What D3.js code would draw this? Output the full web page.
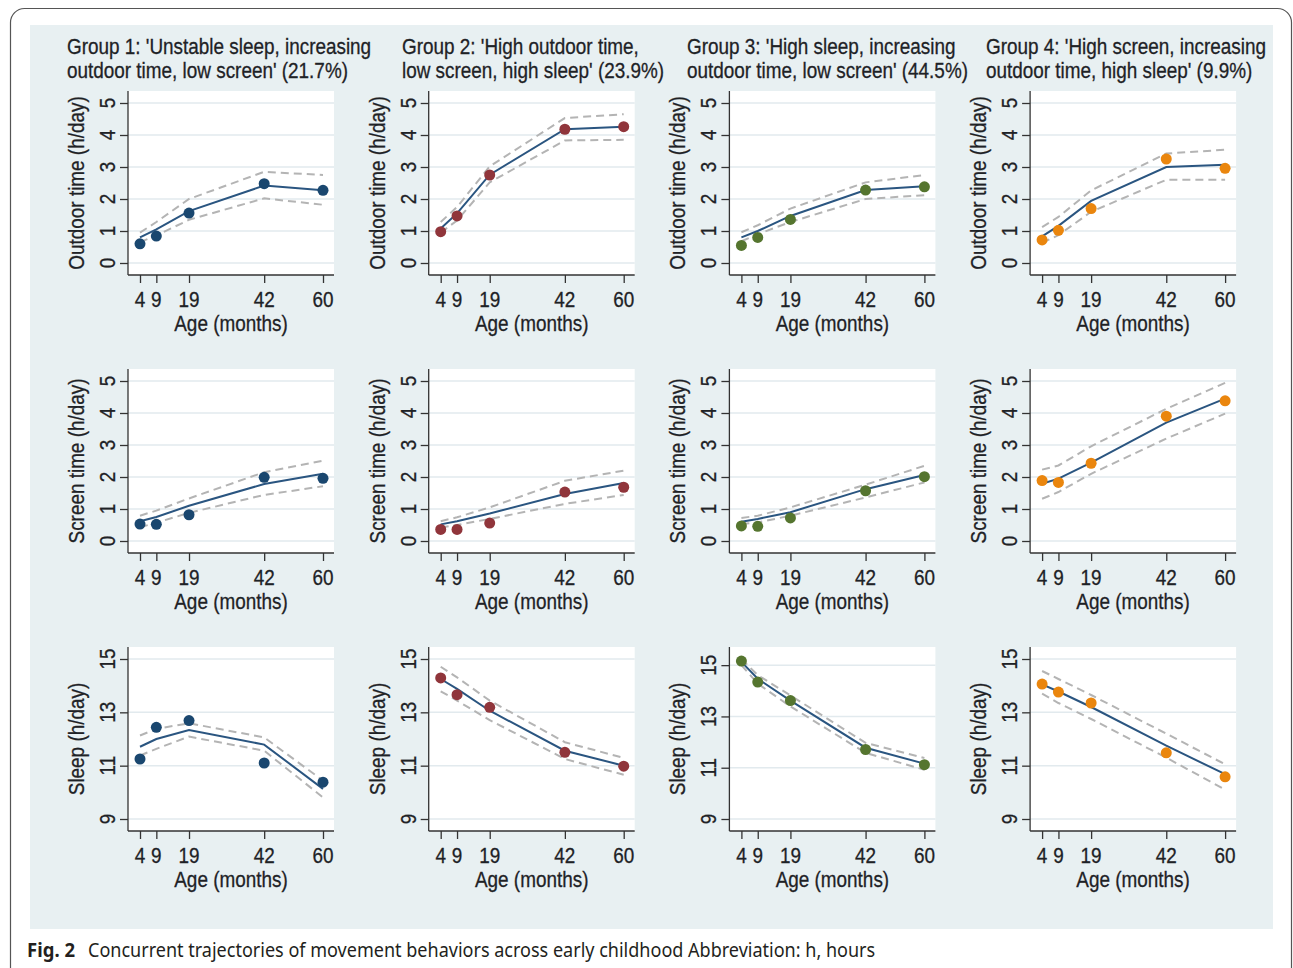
<!DOCTYPE html>
<html><head><meta charset="utf-8">
<script src="https://cdn.jsdelivr.net/npm/d3@7"></script>
<style>body{margin:0;background:#fff} svg{display:block}</style>
</head><body><svg id="c" width="1293" height="968"></svg>
<script>
// ---------------- DATA ----------------
const ages = [4, 9, 19, 42, 60];
const xTicks = [4, 9, 19, 42, 60];
const hourTicks = [0, 1, 2, 3, 4, 5];
const sleepTicks = [9, 11, 13, 15];
const groupTitles = [
  ["Group 1: 'Unstable sleep, increasing", "outdoor time, low screen' (21.7%)"],
  ["Group 2: 'High outdoor time,", "low screen, high sleep' (23.9%)"],
  ["Group 3: 'High sleep, increasing", "outdoor time, low screen' (44.5%)"],
  ["Group 4: 'High screen, increasing", "outdoor time, high sleep' (9.9%)"]
];
const outcomeLabels = ["Outdoor time (h/day)", "Screen time (h/day)", "Sleep (h/day)"];
const xTitle = "Age (months)";
const groupColors = ["#1a476f", "#90353b", "#55752f", "#ea860e"];

// observed means (dots), fitted trajectory, upper and lower CI, per group
const outdoorObs   = [[0.60,0.84,1.56,2.48,2.27],[0.98,1.47,2.75,4.18,4.26],[0.55,0.80,1.36,2.28,2.38],[0.72,1.02,1.70,3.25,2.96]];
const outdoorFit   = [[0.80,1.05,1.62,2.42,2.27],[1.08,1.55,2.76,4.18,4.26],[0.80,1.00,1.47,2.28,2.40],[0.83,1.16,1.94,3.00,3.07]];
const outdoorUpper = [[0.95,1.28,2.00,2.85,2.75],[1.28,1.75,3.02,4.53,4.65],[0.96,1.18,1.70,2.52,2.75],[1.12,1.44,2.27,3.42,3.54]];
const outdoorLower = [[0.65,0.86,1.35,2.02,1.82],[0.95,1.33,2.52,3.83,3.85],[0.68,0.90,1.28,2.00,2.12],[0.63,0.87,1.60,2.60,2.60]];

const screenObs   = [[0.53,0.52,0.82,1.99,1.96],[0.36,0.36,0.56,1.53,1.68],[0.47,0.46,0.72,1.57,2.01],[1.89,1.83,2.43,3.90,4.38]];
const screenFit   = [[0.62,0.75,1.10,1.78,2.10],[0.52,0.62,0.86,1.47,1.81],[0.60,0.69,0.90,1.62,2.06],[1.79,1.95,2.45,3.70,4.45]];
const screenUpper = [[0.79,0.95,1.33,2.15,2.51],[0.62,0.74,1.05,1.88,2.20],[0.72,0.79,1.05,1.76,2.35],[2.23,2.36,2.96,4.13,4.94]];
const screenLower = [[0.43,0.57,0.88,1.44,1.71],[0.42,0.50,0.69,1.16,1.44],[0.53,0.58,0.79,1.36,1.83],[1.32,1.53,2.10,3.20,3.98]];

const sleepObs   = [[11.25,12.44,12.69,11.10,10.38],[14.29,13.66,13.19,11.50,10.98],[15.16,14.34,13.62,11.71,11.12],[14.06,13.76,13.35,11.48,10.58]];
const sleepFit   = [[11.71,12.00,12.34,11.79,10.13],[14.25,13.88,13.06,11.56,11.00],[15.13,14.47,13.62,11.78,11.16],[14.05,13.78,13.20,11.75,10.68]];
const sleepUpper = [[12.13,12.38,12.59,12.06,10.44],[14.71,14.31,13.44,11.88,11.29],[15.24,14.61,13.82,11.97,11.38],[14.55,14.25,13.65,12.20,11.05]];
const sleepLower = [[11.38,11.63,12.09,11.56,9.81],[13.79,13.44,12.71,11.25,10.66],[15.00,14.28,13.39,11.58,10.92],[13.70,13.35,12.75,11.30,10.10]];

const captionBold = "Fig. 2";
const captionText = "Concurrent trajectories of movement behaviors across early childhood Abbreviation: h, hours";

// ---------------- LAYOUT ----------------
const rows = [
  {obs: outdoorObs, fit: outdoorFit, up: outdoorUpper, lo: outdoorLower, ticks: hourTicks},
  {obs: screenObs,  fit: screenFit,  up: screenUpper,  lo: screenLower,  ticks: hourTicks},
  {obs: sleepObs,   fit: sleepFit,   up: sleepUpper,   lo: sleepLower,   ticks: sleepTicks}
];
const titleX = [67, 402, 687, 986];
const FONT = "Liberation Sans, Arial, Helvetica, sans-serif";
const FS = 22, SX = 0.86, TXT = "#1e2226";

const svg = d3.select("#c");
svg.append("rect").attr("x", 10.5).attr("y", 8.5).attr("width", 1281).attr("height", 1000)
  .attr("rx", 14).attr("fill", "#fff").attr("stroke", "#555").attr("stroke-width", 1.2);
svg.append("rect").attr("x", 30).attr("y", 25).attr("width", 1243).attr("height", 904).attr("fill", "#e8f0f2");

function label(g, s, x, y, o = {}) {
  const rot = o.rot || 0, sx = o.sx || SX;
  return g.append("text")
    .attr("transform", `translate(${x},${y}) rotate(${rot}) scale(${sx},1)`)
    .attr("text-anchor", o.anchor || "middle")
    .attr("font-family", o.family || FONT)
    .attr("font-size", o.size || FS)
    .attr("fill", o.fill || TXT)
    .attr("stroke", o.fill || TXT).attr("stroke-width", 0.3)
    .text(s);
}

const W = 206, H = 184;
rows.forEach((row, r) => {
  for (let c = 0; c < 4; c++) {
    const left = 128 + c * 300.7, top = 91 + r * 278;
    const g = svg.append("g");
    const x = d3.scaleLinear().domain([4, 60]).range([left + 12, left + W - 11]);
    const all = [].concat(row.obs[c], row.fit[c], row.up[c], row.lo[c]);
    const t = row.ticks;
    const y = d3.scaleLinear()
      .domain([Math.min(t[0], d3.min(all)), Math.max(t[t.length - 1], d3.max(all))])
      .range([top + H - 12, top + 12]);

    g.append("rect").attr("x", left).attr("y", top).attr("width", W).attr("height", H).attr("fill", "#fff");
    g.selectAll(".grid").data(t).join("line")
      .attr("x1", left).attr("x2", left + W).attr("y1", d => y(d)).attr("y2", d => y(d))
      .attr("stroke", "#e2eaee").attr("stroke-width", 1.5);

    const ya = g.append("g").attr("transform", `translate(${left},0)`)
      .call(d3.axisLeft(y).tickValues(t).tickSize(8).tickSizeOuter(0).tickFormat(""));
    const xa = g.append("g").attr("transform", `translate(0,${top + H})`)
      .call(d3.axisBottom(x).tickValues(xTicks).tickSize(8).tickSizeOuter(0).tickFormat(""));
    [ya, xa].forEach(a => { a.select(".domain").remove(); a.selectAll("line").attr("stroke", "#333").attr("stroke-width", 1.3); });
    g.append("line").attr("x1", left).attr("x2", left).attr("y1", top).attr("y2", top + H)
      .attr("stroke", "#333").attr("stroke-width", 1.3);
    g.append("line").attr("x1", left).attr("x2", left + W).attr("y1", top + H).attr("y2", top + H)
      .attr("stroke", "#333").attr("stroke-width", 1.3);

    t.forEach(v => label(g, String(v), left - 13, y(v), {rot: -90}));
    xTicks.forEach(v => label(g, String(v), x(v), top + H + 32));
    label(g, outcomeLabels[r], left - 44, top + H / 2, {rot: -90});
    label(g, xTitle, left + W / 2, top + H + 56);

    const line = d3.line().x((d, i) => x(ages[i])).y(d => y(d));
    [row.up[c], row.lo[c]].forEach(arr => {
      g.append("path").attr("d", line(arr)).attr("fill", "none")
        .attr("stroke", "#b4b4b4").attr("stroke-width", 2).attr("stroke-dasharray", "8,5");
    });
    g.append("path").attr("d", line(row.fit[c])).attr("fill", "none")
      .attr("stroke", "#2a5580").attr("stroke-width", 2);
    g.selectAll(".dot").data(row.obs[c]).join("circle")
      .attr("cx", (d, i) => x(ages[i])).attr("cy", d => y(d)).attr("r", 5.5)
      .attr("fill", groupColors[c]);

    if (r === 0) {
      label(svg, groupTitles[c][0], titleX[c], 54, {anchor: "start"});
      label(svg, groupTitles[c][1], titleX[c], 78, {anchor: "start"});
    }
  }
});

function fitText(s, x, y, target, weight) {
  const el = svg.append("text").attr("x", 0).attr("y", 0)
    .attr("font-family", "Noto Sans, Open Sans, sans-serif").attr("font-size", 19.5)
    .attr("font-weight", weight).attr("fill", "#231f20").text(s);
  const w = el.node().getComputedTextLength();
  el.attr("transform", `translate(${x},${y}) scale(${target / w},1)`);
}
fitText(captionBold, 27, 957, 48, "bold");
fitText(captionText, 88, 957, 788, "normal");
</script></body></html>
